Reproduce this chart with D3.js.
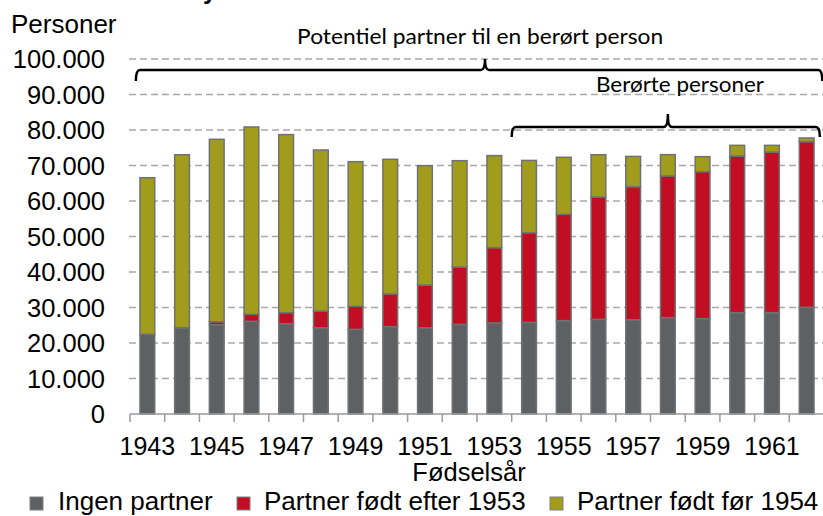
<!DOCTYPE html>
<html>
<head>
<meta charset="utf-8">
<script src="https://cdn.jsdelivr.net/npm/d3@7/dist/d3.min.js"></script>
<style>
  html, body { margin: 0; padding: 0; background: #fff; }
  svg { display: block; }
</style>
</head>
<body>
<svg id="chart" width="823" height="516"></svg>
<script>
// ---- data ----
const years = ["1943","1944","1945","1946","1947","1948","1949","1950","1951","1952",
               "1953","1954","1955","1956","1957","1958","1959","1960","1961","1962"];
const ingenPartner = [22450, 24300, 25150, 26100, 25450, 24300, 23850, 24600, 24300, 25250,
                      25650, 25800, 26300, 26650, 26550, 27150, 26850, 28550, 28550, 30050];
const partnerEfter1953 = [0, 0, 850, 1980, 3100, 4700, 6480, 9200, 12030, 16160,
                          21220, 25260, 29950, 34460, 37470, 39900, 41410, 44130, 45250, 46660];
const partnerFoer1954 = [44110, 48730, 51380, 52770, 50150, 45360, 40750, 37940, 33610, 29950,
                         25920, 20370, 16060, 11920, 8540, 6010, 4230, 3000, 1880, 1040];
const seriesNames = ["Ingen partner", "Partner født efter 1953", "Partner født før 1954"];
const yTicks = [0, 10000, 20000, 30000, 40000, 50000, 60000, 70000, 80000, 90000, 100000];
const xLabelYears = ["1943","1945","1947","1949","1951","1953","1955","1957","1959","1961"];
const yTitle = "Personer";
const xTitle = "Fødselsår";
const annoOuter = "Potentiel partner til en berørt person";
const annoInner = "Berørte personer";

// ---- setup ----
const colors = ["#5e6164", "#c20e22", "#a29c1d"];
const svg = d3.select("#chart");
const FONT = "Arial, 'Liberation Sans', sans-serif";
const ANNO_FONT = "Lato, 'Open Sans', sans-serif";

const x = d3.scaleBand().domain(years).range([130, 824]).paddingInner(0.575).paddingOuter(0.2875);
const y = d3.scaleLinear().domain([0, 100000]).range([414, 59]);
const step = x.step();
const x0 = 130;
const pos = i => x0 + i * step;

// stacked data
const table = years.map((yr, i) => ({year: yr, a: ingenPartner[i], b: partnerEfter1953[i], c: partnerFoer1954[i]}));
const stack = d3.stack().keys(["a", "b", "c"]);
const layers = stack(table);

// gridlines
svg.append("g").selectAll("line").data(yTicks.filter(d => d > 0)).join("line")
  .attr("x1", 129).attr("x2", 823)
  .attr("y1", d => y(d)).attr("y2", d => y(d))
  .attr("stroke", "#a8a8a8").attr("stroke-width", 1.4)
  .attr("stroke-dasharray", "7,4");

// y labels
svg.append("g").selectAll("text").data(yTicks).join("text")
  .attr("x", 105).attr("y", d => y(d)).attr("dy", "0.36em")
  .attr("text-anchor", "end")
  .style("font-family", FONT).style("font-size", "25.5px").attr("fill", "#000")
  .text(d => d === 0 ? "0" : d3.format(",")(d).replace(/,/g, "."));

// bars
svg.append("g").selectAll("g").data(layers).join("g")
  .attr("fill", (d, i) => colors[i])
  .selectAll("rect").data(d => d.filter(s => s[1] - s[0] > 0)).join("rect")
  .attr("x", d => x(d.data.year))
  .attr("width", x.bandwidth())
  .attr("y", d => y(d[1]))
  .attr("height", d => y(d[0]) - y(d[1]))
  .attr("stroke", "#707173").attr("stroke-width", 1.5);

// x axis line and ticks
const axisG = svg.append("g");
axisG.append("line").attr("x1", pos(0)).attr("x2", 823).attr("y1", y(0)).attr("y2", y(0))
  .attr("stroke", "#9a9a9a").attr("stroke-width", 1.5);
axisG.selectAll("line.tk").data(d3.range(0, years.length + 1)).join("line").attr("class", "tk")
  .attr("x1", i => pos(i)).attr("x2", i => pos(i))
  .attr("y1", y(0)).attr("y2", y(0) + 8)
  .attr("stroke", "#9a9a9a").attr("stroke-width", 1.5);

// x labels
svg.append("g").selectAll("text").data(xLabelYears).join("text")
  .attr("x", d => x(d) + x.bandwidth() / 2).attr("y", 455)
  .attr("text-anchor", "middle")
  .style("font-family", FONT).style("font-size", "25px").attr("fill", "#000")
  .text(d => d);

// axis titles
svg.append("text").attr("x", 11).attr("y", 33)
  .style("font-family", FONT).style("font-size", "26px").attr("fill", "#000")
  .text(yTitle);
svg.append("text").attr("x", 469).attr("y", 481).attr("text-anchor", "middle")
  .style("font-family", FONT).style("font-size", "25.5px").attr("fill", "#000")
  .text(xTitle);

// cut-off title fragment at very top
svg.append("text").attr("x", 203).attr("y", -1)
  .style("font-family", FONT).style("font-size", "25px").style("font-weight", "bold").attr("fill", "#000")
  .text("y");

// legend
const legendX = [{sx: 30, tx: 58}, {sx: 237, tx: 264}, {sx: 550, tx: 577}];
const lg = svg.append("g").selectAll("g").data(seriesNames).join("g");
lg.append("rect").attr("x", (d, i) => legendX[i].sx).attr("y", 497).attr("width", 13).attr("height", 13)
  .attr("fill", (d, i) => colors[i]).attr("stroke", "#808080").attr("stroke-width", 1);
lg.append("text").attr("x", (d, i) => legendX[i].tx).attr("y", 510)
  .style("font-family", FONT).style("font-size", "26px").attr("fill", "#000")
  .text(d => d);

// braces
function brace(xl, xr, xt, yh, yb, yt) {
  const r = 4, r2 = 4;
  return `M${xl},${yb} Q${xl},${yh} ${xl + r},${yh} L${xt - r2},${yh} Q${xt},${yh} ${xt},${yt}` +
         ` Q${xt},${yh} ${xt + r2},${yh} L${xr - r},${yh} Q${xr},${yh} ${xr},${yb}`;
}
svg.append("path").attr("d", brace(pos(0.17), pos(19.95), pos(10.23), 70, 81, 59))
  .attr("fill", "none").attr("stroke", "#000").attr("stroke-width", 2.5);
svg.append("path").attr("d", brace(pos(11), pos(19.88), pos(15.5), 127, 137, 114))
  .attr("fill", "none").attr("stroke", "#000").attr("stroke-width", 2.5);

svg.append("text").attr("x", pos(10.09)).attr("y", 44).attr("text-anchor", "middle")
  .style("font-family", ANNO_FONT).style("font-size", "21px").attr("fill", "#000")
  .attr("textLength", 366).attr("lengthAdjust", "spacingAndGlyphs")
  .text(annoOuter);
svg.append("text").attr("x", pos(15.85)).attr("y", 91.5).attr("text-anchor", "middle")
  .style("font-family", ANNO_FONT).style("font-size", "21px").attr("fill", "#000")
  .attr("textLength", 168).attr("lengthAdjust", "spacingAndGlyphs")
  .text(annoInner);
</script>
</body>
</html>
